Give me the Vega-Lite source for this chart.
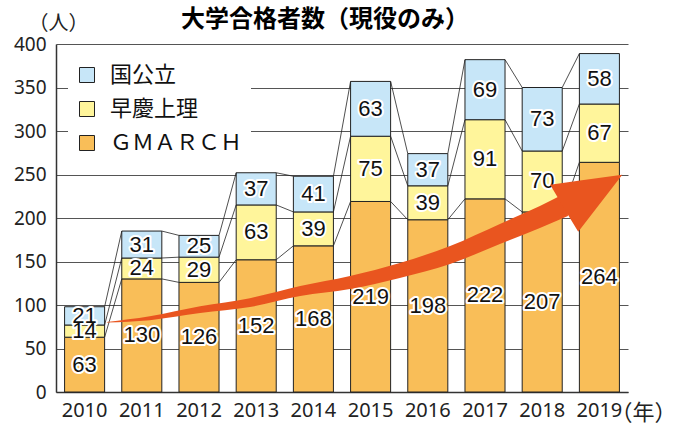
{
  "$schema": "https://vega.github.io/schema/vega-lite/v6.json",
  "width": 572,
  "height": 348,
  "autosize": {"type": "none"},
  "padding": {"left": 56, "top": 44, "right": 57, "bottom": 35},
  "background": "white",
  "title": {"text": "大学合格者数（現役のみ）", "font": "Noto Sans CJK JP", "fontSize": 24, "fontWeight": "bold", "color": "#000", "dx": -17, "dy": 29, "offset": 10},
  "config": {"view": {"stroke": null}},
  "datasets": {
    "counts": [
      {"year": 2010, "cat": "ＧＭＡＲＣＨ", "ord": 1, "value": 63},
      {"year": 2011, "cat": "ＧＭＡＲＣＨ", "ord": 1, "value": 130},
      {"year": 2012, "cat": "ＧＭＡＲＣＨ", "ord": 1, "value": 126},
      {"year": 2013, "cat": "ＧＭＡＲＣＨ", "ord": 1, "value": 152},
      {"year": 2014, "cat": "ＧＭＡＲＣＨ", "ord": 1, "value": 168},
      {"year": 2015, "cat": "ＧＭＡＲＣＨ", "ord": 1, "value": 219},
      {"year": 2016, "cat": "ＧＭＡＲＣＨ", "ord": 1, "value": 198},
      {"year": 2017, "cat": "ＧＭＡＲＣＨ", "ord": 1, "value": 222},
      {"year": 2018, "cat": "ＧＭＡＲＣＨ", "ord": 1, "value": 207},
      {"year": 2019, "cat": "ＧＭＡＲＣＨ", "ord": 1, "value": 264},
      {"year": 2010, "cat": "早慶上理", "ord": 2, "value": 14},
      {"year": 2011, "cat": "早慶上理", "ord": 2, "value": 24},
      {"year": 2012, "cat": "早慶上理", "ord": 2, "value": 29},
      {"year": 2013, "cat": "早慶上理", "ord": 2, "value": 63},
      {"year": 2014, "cat": "早慶上理", "ord": 2, "value": 39},
      {"year": 2015, "cat": "早慶上理", "ord": 2, "value": 75},
      {"year": 2016, "cat": "早慶上理", "ord": 2, "value": 39},
      {"year": 2017, "cat": "早慶上理", "ord": 2, "value": 91},
      {"year": 2018, "cat": "早慶上理", "ord": 2, "value": 70},
      {"year": 2019, "cat": "早慶上理", "ord": 2, "value": 67},
      {"year": 2010, "cat": "国公立", "ord": 3, "value": 21},
      {"year": 2011, "cat": "国公立", "ord": 3, "value": 31},
      {"year": 2012, "cat": "国公立", "ord": 3, "value": 25},
      {"year": 2013, "cat": "国公立", "ord": 3, "value": 37},
      {"year": 2014, "cat": "国公立", "ord": 3, "value": 41},
      {"year": 2015, "cat": "国公立", "ord": 3, "value": 63},
      {"year": 2016, "cat": "国公立", "ord": 3, "value": 37},
      {"year": 2017, "cat": "国公立", "ord": 3, "value": 69},
      {"year": 2018, "cat": "国公立", "ord": 3, "value": 73},
      {"year": 2019, "cat": "国公立", "ord": 3, "value": 58}
    ],
    "shaft": [
      {"ax": 2010.39, "top": 80.6, "bot": 80.0},
      {"ax": 2011.14, "top": 87.2, "bot": 82.6},
      {"ax": 2012.02, "top": 98.7, "bot": 90.7},
      {"ax": 2012.89, "top": 107.9, "bot": 97.6},
      {"ax": 2013.77, "top": 121.8, "bot": 110.3},
      {"ax": 2014.64, "top": 133.3, "bot": 118.3},
      {"ax": 2015.51, "top": 148.3, "bot": 131.1},
      {"ax": 2016.39, "top": 167.9, "bot": 147.1},
      {"ax": 2017.26, "top": 193.2, "bot": 170.2},
      {"ax": 2017.96, "top": 213.9, "bot": 188.6},
      {"ax": 2018.45, "top": 230.1, "bot": 202.4}
    ],
    "head": [
      {"ax": 2018.14, "top": 238.1, "bot": 238.1},
      {"ax": 2018.45, "top": 241.0, "bot": 203.6},
      {"ax": 2018.63, "top": 242.7, "bot": 184.1},
      {"ax": 2019.40, "top": 249.7, "bot": 249.7}
    ]
  },
  "layer": [
    {
      "data": {"name": "counts"},
      "transform": [
        {"stack": "value", "groupby": ["year"], "sort": [{"field": "ord", "order": "ascending"}], "as": ["s0", "s1"]}
      ],
      "layer": [
        {
          "mark": {"type": "bar", "stroke": "#222", "strokeWidth": 1, "opacity": 1},
          "encoding": {
            "x": {
              "field": "year", "type": "ordinal",
              "scale": {"paddingInner": 0.3, "paddingOuter": 0.15},
              "axis": {
                "labelAngle": 0, "ticks": false, "domainColor": "#333", "domainWidth": 1.5,
                "labelFont": "Noto Sans", "labelFontSize": 20, "labelColor": "#222", "labelPadding": 8,
                "title": "（年）", "titleX": 554, "titleY": 20, "titleAlign": "left", "titleBaseline": "middle",
                "titleFont": "Noto Sans CJK JP", "titleFontSize": 22, "titleFontWeight": "normal", "titleColor": "#222"
              }
            },
            "y": {
              "field": "s1", "type": "quantitative",
              "scale": {"domain": [0, 400], "nice": false},
              "axis": {
                "values": [0, 50, 100, 150, 200, 250, 300, 350, 400],
                "ticks": false, "domainColor": "#333", "domainWidth": 1.5,
                "gridColor": "#555", "gridWidth": 1,
                "labelFont": "Noto Sans", "labelFontSize": 19, "labelColor": "#222", "labelPadding": 10,
                "title": "（人）", "titleAngle": 0, "titleAlign": "left", "titleBaseline": "middle",
                "titleX": -28, "titleY": -21, "titleFont": "Noto Sans CJK JP", "titleFontSize": 20,
                "titleFontWeight": "normal", "titleColor": "#222"
              }
            },
            "y2": {"field": "s0"},
            "color": {
              "field": "cat", "type": "nominal",
              "scale": {"domain": ["国公立", "早慶上理", "ＧＭＡＲＣＨ"], "range": ["#C7E6F8", "#FFF59B", "#F9BE58"]},
              "legend": {
                "title": null, "orient": "none", "legendX": 12, "legendY": 12,
                "fillColor": "white", "padding": 8, "symbolType": "square", "symbolSize": 225,
                "symbolStrokeColor": "#222", "symbolStrokeWidth": 1, "symbolOpacity": 1,
                "labelFont": "Noto Sans CJK JP", "labelFontSize": 22, "labelColor": "#111",
                "rowPadding": 12, "labelOffset": 12
              }
            }
          }
        },
        {
          "transform": [
            {"window": [{"op": "lead", "field": "s1", "as": "n1"}, {"op": "lead", "field": "year", "as": "ny"}], "groupby": ["cat"], "sort": [{"field": "year", "order": "ascending"}]},
            {"filter": "datum.ny != null"}
          ],
          "mark": {"type": "rule", "color": "#222", "strokeWidth": 0.8},
          "encoding": {
            "x": {"field": "year", "type": "ordinal", "bandPosition": 1},
            "x2": {"field": "ny", "bandPosition": 0},
            "y": {"field": "s1", "type": "quantitative"},
            "y2": {"field": "n1"}
          }
        },
        {
          "transform": [
            {"fold": ["s0", "s1"], "as": ["k", "v"]},
            {"aggregate": [{"op": "mean", "field": "v", "as": "mid"}], "groupby": ["year", "cat", "value"]}
          ],
          "layer": [
            {
              "mark": {"type": "text", "font": "Liberation Sans", "fontSize": 22, "stroke": "white", "strokeWidth": 4, "strokeJoin": "round", "fill": "white", "baseline": "middle", "align": "center"},
              "encoding": {
                "x": {"field": "year", "type": "ordinal"},
                "y": {"field": "mid", "type": "quantitative"},
                "text": {"field": "value", "type": "quantitative"}
              }
            },
            {
              "mark": {"type": "text", "font": "Liberation Sans", "fontSize": 22, "fill": "#111", "baseline": "middle", "align": "center"},
              "encoding": {
                "x": {"field": "year", "type": "ordinal"},
                "y": {"field": "mid", "type": "quantitative"},
                "text": {"field": "value", "type": "quantitative"}
              }
            }
          ]
        }
      ]
    },
    {
      "layer": [
        {
          "data": {"name": "shaft"},
          "mark": {"type": "area", "color": "#E9551F", "interpolate": "monotone", "opacity": 1},
          "encoding": {
            "x": {"field": "ax", "type": "quantitative", "scale": {"domain": [2009.5, 2019.5], "nice": false, "zero": false}, "axis": null},
            "y": {"field": "top", "type": "quantitative", "title": "（人）"},
            "y2": {"field": "bot"}
          }
        },
        {
          "data": {"name": "head"},
          "mark": {"type": "area", "color": "#E9551F", "interpolate": "linear", "opacity": 1},
          "encoding": {
            "x": {"field": "ax", "type": "quantitative", "scale": {"domain": [2009.5, 2019.5], "nice": false, "zero": false}, "axis": null},
            "y": {"field": "top", "type": "quantitative", "title": "（人）"},
            "y2": {"field": "bot"}
          }
        }
      ]
    }
  ],
  "resolve": {"scale": {"x": "independent"}}
}
